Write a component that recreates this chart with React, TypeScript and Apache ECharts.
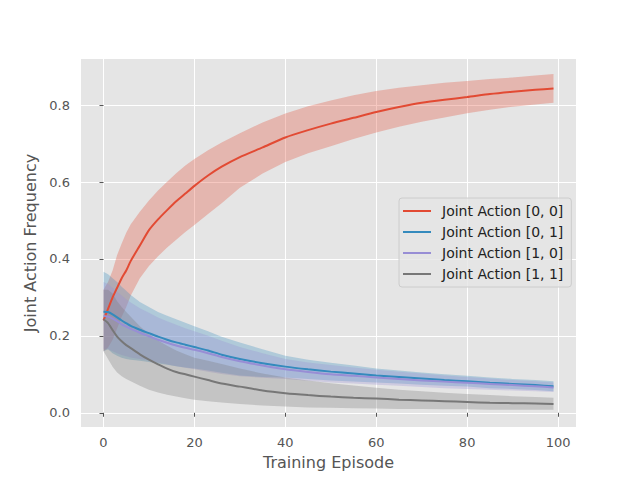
import React, { useEffect, useRef } from "react";
import * as echarts from "echarts";

const EP = [0, 1, 2, 3, 4, 5, 6, 8, 10, 12, 14, 16, 18, 20, 23, 26, 30, 35, 40, 45, 50, 55, 60, 65, 70, 75, 80, 85, 90, 95, 99];

const NAMES = ["Joint Action [0, 0]", "Joint Action [0, 1]", "Joint Action [1, 0]", "Joint Action [1, 1]"];
const COLORS = ["#E24A33", "#348ABD", "#988ED5", "#777777"];

const MEAN_00 = [0.24, 0.27, 0.3, 0.325, 0.35, 0.37, 0.395, 0.435, 0.475, 0.503, 0.527, 0.55, 0.57, 0.59, 0.617, 0.64, 0.665, 0.69, 0.716, 0.735, 0.752, 0.767, 0.782, 0.795, 0.806, 0.814, 0.821, 0.829, 0.835, 0.84, 0.843];
const UP_00 = [0.32, 0.34, 0.37, 0.41, 0.44, 0.468, 0.49, 0.523, 0.552, 0.578, 0.601, 0.623, 0.643, 0.66, 0.683, 0.703, 0.727, 0.755, 0.778, 0.797, 0.812, 0.826, 0.837, 0.845, 0.852, 0.858, 0.863, 0.868, 0.872, 0.877, 0.881];
const LO_00 = [0.16, 0.17, 0.19, 0.22, 0.25, 0.275, 0.305, 0.35, 0.382, 0.407, 0.43, 0.45, 0.47, 0.488, 0.517, 0.545, 0.585, 0.622, 0.652, 0.675, 0.693, 0.712, 0.729, 0.744, 0.757, 0.768, 0.779, 0.788, 0.796, 0.802, 0.806];

const MEAN_01 = [0.263, 0.262, 0.256, 0.248, 0.24, 0.233, 0.226, 0.216, 0.207, 0.198, 0.19, 0.183, 0.177, 0.171, 0.162, 0.151, 0.14, 0.129, 0.12, 0.113, 0.107, 0.102, 0.097, 0.093, 0.089, 0.085, 0.082, 0.078, 0.075, 0.072, 0.069];
const UP_01 = [0.367, 0.36, 0.35, 0.34, 0.328, 0.317, 0.306, 0.288, 0.275, 0.262, 0.252, 0.243, 0.234, 0.225, 0.212, 0.198, 0.183, 0.165, 0.148, 0.138, 0.13, 0.123, 0.115, 0.11, 0.105, 0.1, 0.096, 0.092, 0.088, 0.085, 0.082];
const LO_01 = [0.16, 0.165, 0.155, 0.148, 0.143, 0.14, 0.138, 0.135, 0.132, 0.128, 0.125, 0.121, 0.118, 0.115, 0.11, 0.104, 0.097, 0.093, 0.092, 0.088, 0.084, 0.081, 0.079, 0.076, 0.073, 0.07, 0.068, 0.064, 0.062, 0.059, 0.056];

const MEAN_10 = [0.252, 0.25, 0.245, 0.238, 0.23, 0.224, 0.218, 0.208, 0.199, 0.19, 0.182, 0.175, 0.169, 0.164, 0.155, 0.145, 0.134, 0.123, 0.113, 0.106, 0.1, 0.096, 0.092, 0.088, 0.084, 0.081, 0.078, 0.075, 0.072, 0.069, 0.066];
const UP_10 = [0.34, 0.335, 0.325, 0.315, 0.305, 0.295, 0.287, 0.272, 0.26, 0.248, 0.238, 0.229, 0.22, 0.212, 0.2, 0.187, 0.171, 0.155, 0.14, 0.131, 0.124, 0.118, 0.112, 0.107, 0.102, 0.097, 0.093, 0.089, 0.085, 0.082, 0.079];
const LO_10 = [0.165, 0.165, 0.16, 0.155, 0.15, 0.147, 0.144, 0.14, 0.136, 0.131, 0.126, 0.121, 0.117, 0.113, 0.107, 0.101, 0.095, 0.091, 0.088, 0.083, 0.079, 0.076, 0.073, 0.07, 0.067, 0.064, 0.062, 0.06, 0.058, 0.056, 0.054];

const MEAN_11 = [0.243, 0.233, 0.215, 0.198, 0.186, 0.176, 0.168, 0.152, 0.138, 0.126, 0.115, 0.106, 0.1, 0.094, 0.085, 0.076, 0.068, 0.058, 0.051, 0.046, 0.042, 0.039, 0.037, 0.034, 0.032, 0.03, 0.028, 0.026, 0.025, 0.024, 0.023];
const UP_11 = [0.32, 0.32, 0.31, 0.29, 0.275, 0.262, 0.25, 0.225, 0.205, 0.188, 0.174, 0.162, 0.152, 0.143, 0.135, 0.127, 0.115, 0.102, 0.092, 0.084, 0.077, 0.071, 0.065, 0.06, 0.056, 0.052, 0.049, 0.046, 0.043, 0.041, 0.039];
const LO_11 = [0.16, 0.14, 0.12, 0.105, 0.095, 0.088, 0.082, 0.07, 0.06, 0.053, 0.047, 0.042, 0.038, 0.034, 0.03, 0.027, 0.023, 0.019, 0.016, 0.014, 0.013, 0.012, 0.011, 0.01, 0.01, 0.009, 0.009, 0.008, 0.008, 0.008, 0.008];

const X_TICKS = [0, 20, 40, 60, 80, 100];
const Y_TICKS = [0, 0.2, 0.4, 0.6, 0.8];

const MEANS = [MEAN_00, MEAN_01, MEAN_10, MEAN_11];
const UPPERS = [UP_00, UP_01, UP_10, UP_11];
const LOWERS = [LO_00, LO_01, LO_10, LO_11];

const FONT = "DejaVu Sans";

function bandSeries(idx: number) {
  const up = UPPERS[idx];
  const lo = LOWERS[idx];
  return {
    type: "custom",
    name: "band" + idx,
    coordinateSystem: "cartesian2d",
    silent: true,
    z: 1,
    data: [[EP[0], lo[0]]],
    renderItem: (_params: any, api: any) => {
      const pts: number[][] = [];
      for (let i = 0; i < EP.length; i++) pts.push(api.coord([EP[i], up[i]]));
      for (let i = EP.length - 1; i >= 0; i--) pts.push(api.coord([EP[i], lo[i]]));
      return {
        type: "polygon",
        shape: { points: pts },
        style: { fill: COLORS[idx], opacity: 0.3 },
      };
    },
  };
}

function lineSeries(idx: number) {
  return {
    type: "line",
    name: NAMES[idx],
    data: EP.map((x, i) => [x, MEANS[idx][i]]),
    symbol: "none",
    smooth: 0.2,
    z: 3,
    lineStyle: { color: COLORS[idx], width: 2 },
    itemStyle: { color: COLORS[idx] },
  };
}

export default function App() {
  const ref = useRef<HTMLDivElement>(null);
  useEffect(() => {
    if (!ref.current) return;
    const chart = echarts.init(ref.current, null, { renderer: "svg" });
    const option: any = {
      animation: false,
      textStyle: { fontFamily: FONT },
      grid: {
        left: 81,
        right: 64,
        top: 59,
        bottom: 53,
        show: true,
        backgroundColor: "#E5E5E5",
        borderWidth: 0,
      },
      legend: {
        data: NAMES.map((n) => ({ name: n, icon: "rect" })),
        orient: "vertical",
        left: 399,
        top: 198,
        padding: [6, 8, 6, 4],
        itemWidth: 28,
        itemHeight: 2,
        itemGap: 7,
        backgroundColor: "rgba(229,229,229,0.8)",
        borderColor: "#cccccc",
        borderWidth: 1,
        borderRadius: 3,
        textStyle: { fontFamily: FONT, fontSize: 14, color: "#222222", lineHeight: 14, padding: [0, 0, 0, 6] },
      },
      xAxis: {
        type: "value",
        min: -4.95,
        max: 103.95,
        name: "Training Episode",
        nameLocation: "middle",
        nameGap: 27,
        nameTextStyle: { fontFamily: FONT, fontSize: 16, color: "#555555" },
        axisLine: { show: false },
        axisTick: { show: true, length: 4, lineStyle: { color: "#555555", width: 1 }, customValues: X_TICKS },
        axisLabel: { fontFamily: FONT, fontSize: 13, color: "#555555", margin: 9, customValues: X_TICKS, formatter: (v: number) => String(Math.round(v)) },
        splitLine: { show: true, lineStyle: { color: "#ffffff", width: 1 } },
      },
      yAxis: {
        type: "value",
        min: -0.037,
        max: 0.92,
        name: "Joint Action Frequency",
        nameLocation: "middle",
        nameGap: 40,
        nameTextStyle: { fontFamily: FONT, fontSize: 16, color: "#555555" },
        axisLine: { show: false },
        axisTick: { show: true, length: 4, lineStyle: { color: "#555555", width: 1 }, customValues: Y_TICKS },
        axisLabel: { fontFamily: FONT, fontSize: 13, color: "#555555", margin: 11, customValues: Y_TICKS, formatter: (v: number) => v.toFixed(1) },
        splitLine: { show: true, lineStyle: { color: "#ffffff", width: 1 } },
      },
      series: [
        bandSeries(0), bandSeries(1), bandSeries(2), bandSeries(3),
        lineSeries(0), lineSeries(1), lineSeries(2), lineSeries(3),
      ],
    };
    chart.setOption(option);
    return () => chart.dispose();
  }, []);
  return <div ref={ref} style={{ position: "absolute", left: 0, top: 0, width: 640, height: 480 }} />;
}
